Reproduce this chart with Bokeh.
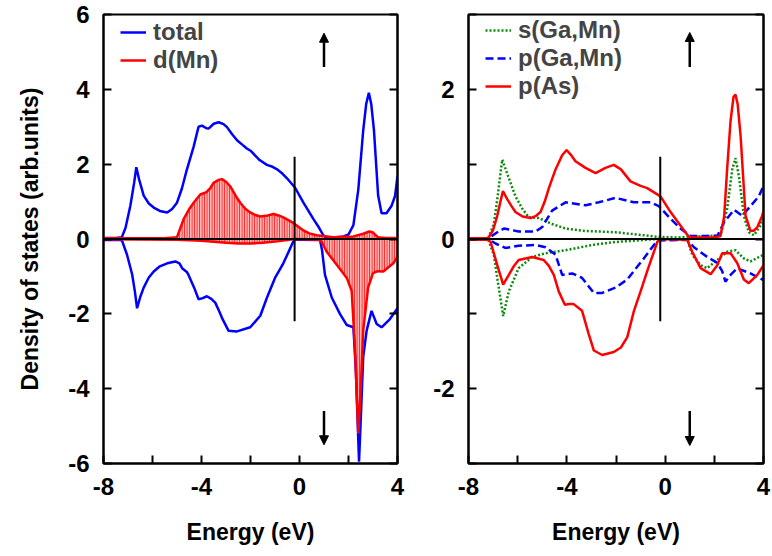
from bokeh.plotting import figure
from bokeh.layouts import row
from bokeh.models import LinearAxis, FixedTicker, Range1d, Legend, LegendItem, Arrow, NormalHead, Span
from bokeh.embed import file_html
from bokeh.resources import INLINE

# ---------------- data ----------------
# Left panel: total DOS and Mn-d DOS (spin up > 0, spin down < 0)
tot_up_e = [-8, -7.5, -7.25, -7.1, -6.9, -6.75, -6.66, -6.55, -6.36, -6.15, -5.95, -5.7, -5.4, -5.2, -5.0, -4.8,
            -4.6, -4.32, -4.12, -3.98, -3.8, -3.71, -3.5, -3.3, -3.1, -2.96, -2.75, -2.55, -2.35, -2.15, -2.0,
            -1.63, -1.33, -1.1, -0.93, -0.7, -0.52, -0.18, 0.16, 0.57, 0.8, 0.97, 1.1, 1.5, 1.8, 2.0, 2.2, 2.4,
            2.6, 2.72, 2.83, 2.93, 3.04, 3.21, 3.35, 3.55, 3.76, 3.9, 4.0]
tot_up = [0.03, 0.03, 0.05, 0.3, 0.9, 1.5, 1.92, 1.6, 1.16, 0.95, 0.84, 0.75, 0.71, 0.8, 0.97, 1.35,
          1.85, 2.47, 3.0, 3.03, 2.96, 2.95, 3.08, 3.12, 3.07, 2.99, 2.8, 2.64, 2.53, 2.42, 2.36,
          2.11, 1.98, 1.93, 1.87, 1.75, 1.63, 1.37, 0.97, 0.53, 0.3, 0.1, 0.05, 0.05, 0.07, 0.12, 0.37, 1.32,
          2.9, 3.6, 3.91, 3.6, 2.9, 1.16, 0.69, 0.69, 0.89, 1.15, 1.68]

tot_dn_e = [-8, -7.3, -7.24, -7.04, -6.83, -6.72, -6.63, -6.5, -6.36, -6.15, -5.95, -5.7, -5.4, -5.07, -4.9,
            -4.79, -4.6, -4.53, -4.3, -4.12, -3.95, -3.78, -3.6, -3.44, -3.3, -3.17, -2.9, -2.55, -2.01, -1.6,
            -1.33, -1.0, -0.66, -0.38, -0.22, 0.0, 0.84, 0.92, 1.04, 1.32, 1.65, 1.93, 2.2, 2.3, 2.43, 2.52,
            2.6, 2.74, 2.94, 3.15, 3.35, 3.69, 4.0]
tot_dn = [-0.03, -0.03, -0.05, -0.42, -0.95, -1.4, -1.85, -1.55, -1.3, -1.03, -0.87, -0.73, -0.65, -0.6, -0.65,
          -0.78, -0.88, -0.96, -1.3, -1.61, -1.58, -1.53, -1.6, -1.7, -1.9, -2.1, -2.45, -2.47, -2.36, -2.05,
          -1.57, -1.04, -0.65, -0.25, -0.02, -0.02, -0.03, -0.3, -0.96, -1.57, -2.0, -2.3, -2.36, -3.5, -5.95, -4.5,
          -3.15, -2.45, -1.92, -2.27, -2.36, -2.14, -1.85]

mn_up_e = [-8, -5.5, -5.0, -4.73, -4.5, -4.32, -4.05, -3.8, -3.65, -3.51, -3.3, -3.17, -3.0, -2.83, -2.6, -2.42,
           -2.2, -2.01, -1.8, -1.6, -1.3, -1.06, -0.85, -0.66, -0.25, 0.16, 0.4, 0.7, 1.38, 2.2, 2.6, 2.85,
           2.98, 3.2, 3.5, 4.0]
mn_up = [0.02, 0.02, 0.05, 0.53, 0.8, 0.97, 1.19, 1.25, 1.35, 1.5, 1.58, 1.6, 1.53, 1.41, 1.15, 0.97,
         0.8, 0.71, 0.64, 0.6, 0.63, 0.67, 0.63, 0.58, 0.43, 0.23, 0.15, 0.1, 0.05, 0.07, 0.14, 0.2,
         0.18, 0.05, 0.03, 0.03]

mn_dn_e = [-8, -5.0, -4.0, -3.0, -2.5, -2.0, -1.5, -1.0, -0.5, -0.2, 0.8, 0.91, 1.11, 1.52, 1.93, 2.13, 2.26,
           2.4, 2.5, 2.6, 2.8, 3.0, 3.2, 3.42, 3.83, 4.0]
mn_dn = [-0.01, -0.02, -0.05, -0.1, -0.12, -0.12, -0.1, -0.07, -0.03, 0.0, -0.02, -0.08, -0.34, -0.69, -1.04,
         -1.39, -2.89, -5.2, -4.0, -2.45, -1.3, -0.91, -0.86, -0.87, -0.65, -0.47]

# Right panel: partial DOS
as_up_e = [-8, -7.2, -7.0, -6.83, -6.7, -6.6, -6.42, -6.25, -6.09, -5.8, -5.48, -5.25, -5.07, -4.9, -4.73, -4.46,
           -4.19, -4.01, -3.8, -3.65, -3.24, -2.83, -2.43, -2.09, -1.8, -1.41, -1.0, -0.73, -0.19, 0.22, 0.62,
           0.96, 1.2, 2.0, 2.25, 2.4, 2.52, 2.66, 2.78, 2.86, 2.95, 3.07, 3.27, 3.47, 3.6, 3.75, 3.95, 4.0]
as_up = [0.01, 0.01, 0.12, 0.31, 0.5, 0.64, 0.53, 0.44, 0.36, 0.3, 0.28, 0.31, 0.36, 0.5, 0.68, 0.93,
         1.12, 1.19, 1.11, 1.04, 0.95, 0.88, 0.95, 0.99, 0.93, 0.77, 0.71, 0.68, 0.57, 0.36, 0.18,
         0.03, 0.02, 0.02, 0.04, 0.3, 0.93, 1.58, 1.9, 1.93, 1.8, 1.37, 0.31, 0.11, 0.11, 0.16, 0.31, 0.38]

as_dn_e = [-8, -7.2, -7.1, -6.83, -6.59, -6.36, -6.15, -5.96, -5.41, -4.94, -4.73, -4.53, -4.33, -4.08, -3.9,
           -3.72, -3.38, -3.11, -2.9, -2.56, -2.09, -1.8, -1.54, -1.27, -1.0, -0.73, -0.32, -0.2, 0.9, 1.1,
           1.44, 1.85, 2.12, 2.32, 2.66, 2.93, 3.2, 3.4, 3.75, 4.0]
as_dn = [-0.01, -0.01, -0.04, -0.35, -0.61, -0.48, -0.36, -0.28, -0.24, -0.28, -0.36, -0.48, -0.7, -0.88, -0.87,
         -0.87, -0.96, -1.27, -1.49, -1.55, -1.51, -1.45, -1.31, -0.96, -0.7, -0.43, -0.04, 0.0, -0.01, -0.17,
         -0.39, -0.47, -0.35, -0.19, -0.19, -0.32, -0.54, -0.59, -0.48, -0.35]

s_up_e = [-8, -7.2, -6.97, -6.83, -6.63, -6.43, -6.09, -5.8, -5.55, -5.14, -4.6, -4.05, -3.37, -2.02, -0.87,
          -0.32, 0.5, 2.25, 2.52, 2.73, 2.86, 3.0, 3.2, 3.4, 3.61, 3.88, 4.0]
s_up = [0.01, 0.01, 0.2, 0.53, 1.06, 0.88, 0.57, 0.4, 0.29, 0.28, 0.2, 0.14, 0.11, 0.09, 0.05,
        0.03, 0.02, 0.05, 0.4, 0.93, 1.08, 0.84, 0.31, 0.09, 0.05, 0.18, 0.36]

s_dn_e = [-8, -7.2, -6.97, -6.83, -6.59, -6.36, -5.96, -5.41, -4.87, -4.05, -2.97, -2.02, -0.32, 0.9, 1.1,
          1.44, 1.71, 2.12, 2.52, 2.86, 3.2, 3.47, 4.0]
s_dn = [-0.01, -0.01, -0.21, -0.52, -1.03, -0.7, -0.39, -0.24, -0.19, -0.15, -0.08, -0.04, 0.0, -0.01, -0.21,
        -0.35, -0.39, -0.28, -0.17, -0.15, -0.26, -0.3, -0.21]

p_up_e = [-8, -7.2, -7.1, -6.83, -6.56, -5.96, -5.27, -5.0, -4.6, -4.05, -3.24, -2.7, -2.02, -1.27, -0.6,
          -0.26, 0.22, 0.62, 1.03, 2.12, 2.39, 2.8, 3.13, 3.47, 3.81, 4.0]
p_up = [0.0, 0.0, 0.03, 0.09, 0.14, 0.1, 0.1, 0.16, 0.38, 0.49, 0.45, 0.49, 0.55, 0.49, 0.49,
        0.44, 0.27, 0.14, 0.04, 0.04, 0.22, 0.39, 0.31, 0.44, 0.57, 0.71]

p_dn_e = [-8, -7.2, -6.9, -6.5, -5.96, -5.27, -4.87, -4.46, -4.19, -3.78, -3.38, -2.9, -2.56, -2.02, -1.54,
          -0.87, -0.32, 0.9, 1.17, 1.71, 2.12, 2.32, 2.45, 2.66, 2.93, 3.47, 4.0]
p_dn = [0.0, 0.0, -0.06, -0.12, -0.09, -0.08, -0.11, -0.21, -0.48, -0.46, -0.52, -0.72, -0.72, -0.65, -0.54,
        -0.26, -0.02, -0.01, -0.11, -0.24, -0.32, -0.43, -0.57, -0.48, -0.39, -0.46, -0.55]

# Axis ticks: labelled (major) and unlabelled (minor) positions
x_major = [-8, -4, 0, 4]
x_minor = [-6, -2, 2]
yl_major = [-6, -4, -2, 0, 2, 4, 6]
yl_minor = []
yr_major = [-2, 0, 2]
yr_minor = [-3, -1, 1, 3]

# Annotations: Fermi-level marker and spin arrows
fermi_x = -0.2
fermi_half_left = 2.2
fermi_half_right = 1.1
arrow_x = 1.0
arrows_left = [(4.6, 5.5), (-4.6, -5.5)]
arrows_right = [(2.3, 2.76), (-2.3, -2.76)]

FONT = "Liberation Sans"
BLUE = "#0000ff"
RED = "#ff0000"
GREEN = "#0a8a0a"

FRAME_H = 449
TOP = 14


def style_axis(ax, major, minor):
    ax.ticker = FixedTicker(ticks=major, minor_ticks=minor)
    ax.major_label_overrides = {t: str(t) for t in major}
    ax.major_tick_in = 8
    ax.major_tick_out = 0
    ax.minor_tick_in = 8
    ax.minor_tick_out = 0
    ax.major_tick_line_width = 2
    ax.minor_tick_line_width = 2
    ax.minor_tick_line_color = "black"
    ax.axis_line_width = 2
    ax.major_label_text_font = FONT
    ax.major_label_text_font_size = "24px"
    ax.major_label_text_font_style = "bold"
    ax.major_label_text_color = "black"
    ax.axis_label_text_font = FONT
    ax.axis_label_text_font_size = "23px"
    ax.axis_label_text_font_style = "bold"
    ax.axis_label_text_color = "black"


def make_fig(yr, ymaj, ymin, border_left, frame_w, border_right, ylabel_text):
    p = figure(frame_width=frame_w, frame_height=FRAME_H, min_border_left=border_left,
               min_border_right=border_right, min_border_top=TOP, min_border_bottom=90,
               x_range=Range1d(-8, 4), y_range=Range1d(*yr),
               output_backend="svg", toolbar_location=None)
    p.grid.visible = False
    p.outline_line_color = "black"
    p.outline_line_width = 2
    p.background_fill_color = "white"
    p.border_fill_color = "white"
    style_axis(p.xaxis[0], x_major, x_minor)
    style_axis(p.yaxis[0], ymaj, ymin)
    p.xaxis[0].major_label_standoff = 14
    p.yaxis[0].major_label_standoff = 14
    p.xaxis[0].axis_label = "Energy (eV)"
    p.xaxis[0].axis_label_standoff = 21
    if ylabel_text:
        p.yaxis[0].axis_label = ylabel_text
        p.yaxis[0].axis_label_standoff = 22
    rax = LinearAxis()
    style_axis(rax, [], ymaj + ymin)
    p.add_layout(rax, "right")
    return p


def style_legend(p, items):
    n = len(items)
    row_h = 28
    spacing = -2
    h = n * row_h + (n - 1) * spacing
    leg = Legend(items=items, location=(17, FRAME_H - 6 - h), background_fill_alpha=0, border_line_alpha=0,
                 label_text_font=FONT, label_text_font_size="24px", label_text_font_style="bold",
                 glyph_width=26, glyph_height=row_h, label_height=row_h, spacing=spacing,
                 padding=0, margin=0, label_standoff=7)
    p.add_layout(leg)


def add_arrows(p, arrows):
    for (y0, y1) in arrows:
        p.add_layout(Arrow(end=NormalHead(size=9, fill_color="black", line_color="black"),
                           x_start=arrow_x, y_start=y0, x_end=arrow_x, y_end=y1,
                           line_color="black", line_width=2.5))


# ---------------- left panel ----------------
p1 = make_fig((-6, 6), yl_major, yl_minor, 103, 294, 8, "Density of states (arb.units)")
p1.varea(x=mn_up_e, y1=0, y2=mn_up, fill_color=RED, fill_alpha=0.3,
         hatch_pattern="vertical_line", hatch_color=RED, hatch_scale=2.5, hatch_weight=1, hatch_alpha=0.9)
p1.varea(x=mn_dn_e, y1=mn_dn, y2=0, fill_color=RED, fill_alpha=0.3,
         hatch_pattern="vertical_line", hatch_color=RED, hatch_scale=2.5, hatch_weight=1, hatch_alpha=0.9)
r_tot = p1.line(tot_up_e, tot_up, line_color=BLUE, line_width=2.5)
p1.line(tot_dn_e, tot_dn, line_color=BLUE, line_width=2.5)
r_mn = p1.line(mn_up_e, mn_up, line_color=RED, line_width=2.5)
p1.line(mn_dn_e, mn_dn, line_color=RED, line_width=2.5)
p1.add_layout(Span(location=0, dimension="width", line_color="black", line_width=2))
p1.segment(x0=[fermi_x], y0=[-fermi_half_left], x1=[fermi_x], y1=[fermi_half_left],
           line_color="black", line_width=2)
add_arrows(p1, arrows_left)
style_legend(p1, [LegendItem(label="total", renderers=[r_tot]),
                  LegendItem(label="d(Mn)", renderers=[r_mn])])

# ---------------- right panel ----------------
p2 = make_fig((-3, 3), yr_major, yr_minor, 63, 295, 8, None)
r_s = p2.line(s_up_e, s_up, line_color=GREEN, line_width=2.5, line_dash="2 2")
p2.line(s_dn_e, s_dn, line_color=GREEN, line_width=2.5, line_dash="2 2")
r_p = p2.line(p_up_e, p_up, line_color=BLUE, line_width=2.5, line_dash="8 4")
p2.line(p_dn_e, p_dn, line_color=BLUE, line_width=2.5, line_dash="8 4")
r_as = p2.line(as_up_e, as_up, line_color=RED, line_width=2.5)
p2.line(as_dn_e, as_dn, line_color=RED, line_width=2.5)
p2.add_layout(Span(location=0, dimension="width", line_color="black", line_width=2))
p2.segment(x0=[fermi_x], y0=[-fermi_half_right], x1=[fermi_x], y1=[fermi_half_right],
           line_color="black", line_width=2)
add_arrows(p2, arrows_right)
style_legend(p2, [LegendItem(label="s(Ga,Mn)", renderers=[r_s]),
                  LegendItem(label="p(Ga,Mn)", renderers=[r_p]),
                  LegendItem(label="p(As)", renderers=[r_as])])

layout = row(p1, p2)
open("out.html", "w").write(file_html(layout, INLINE))
